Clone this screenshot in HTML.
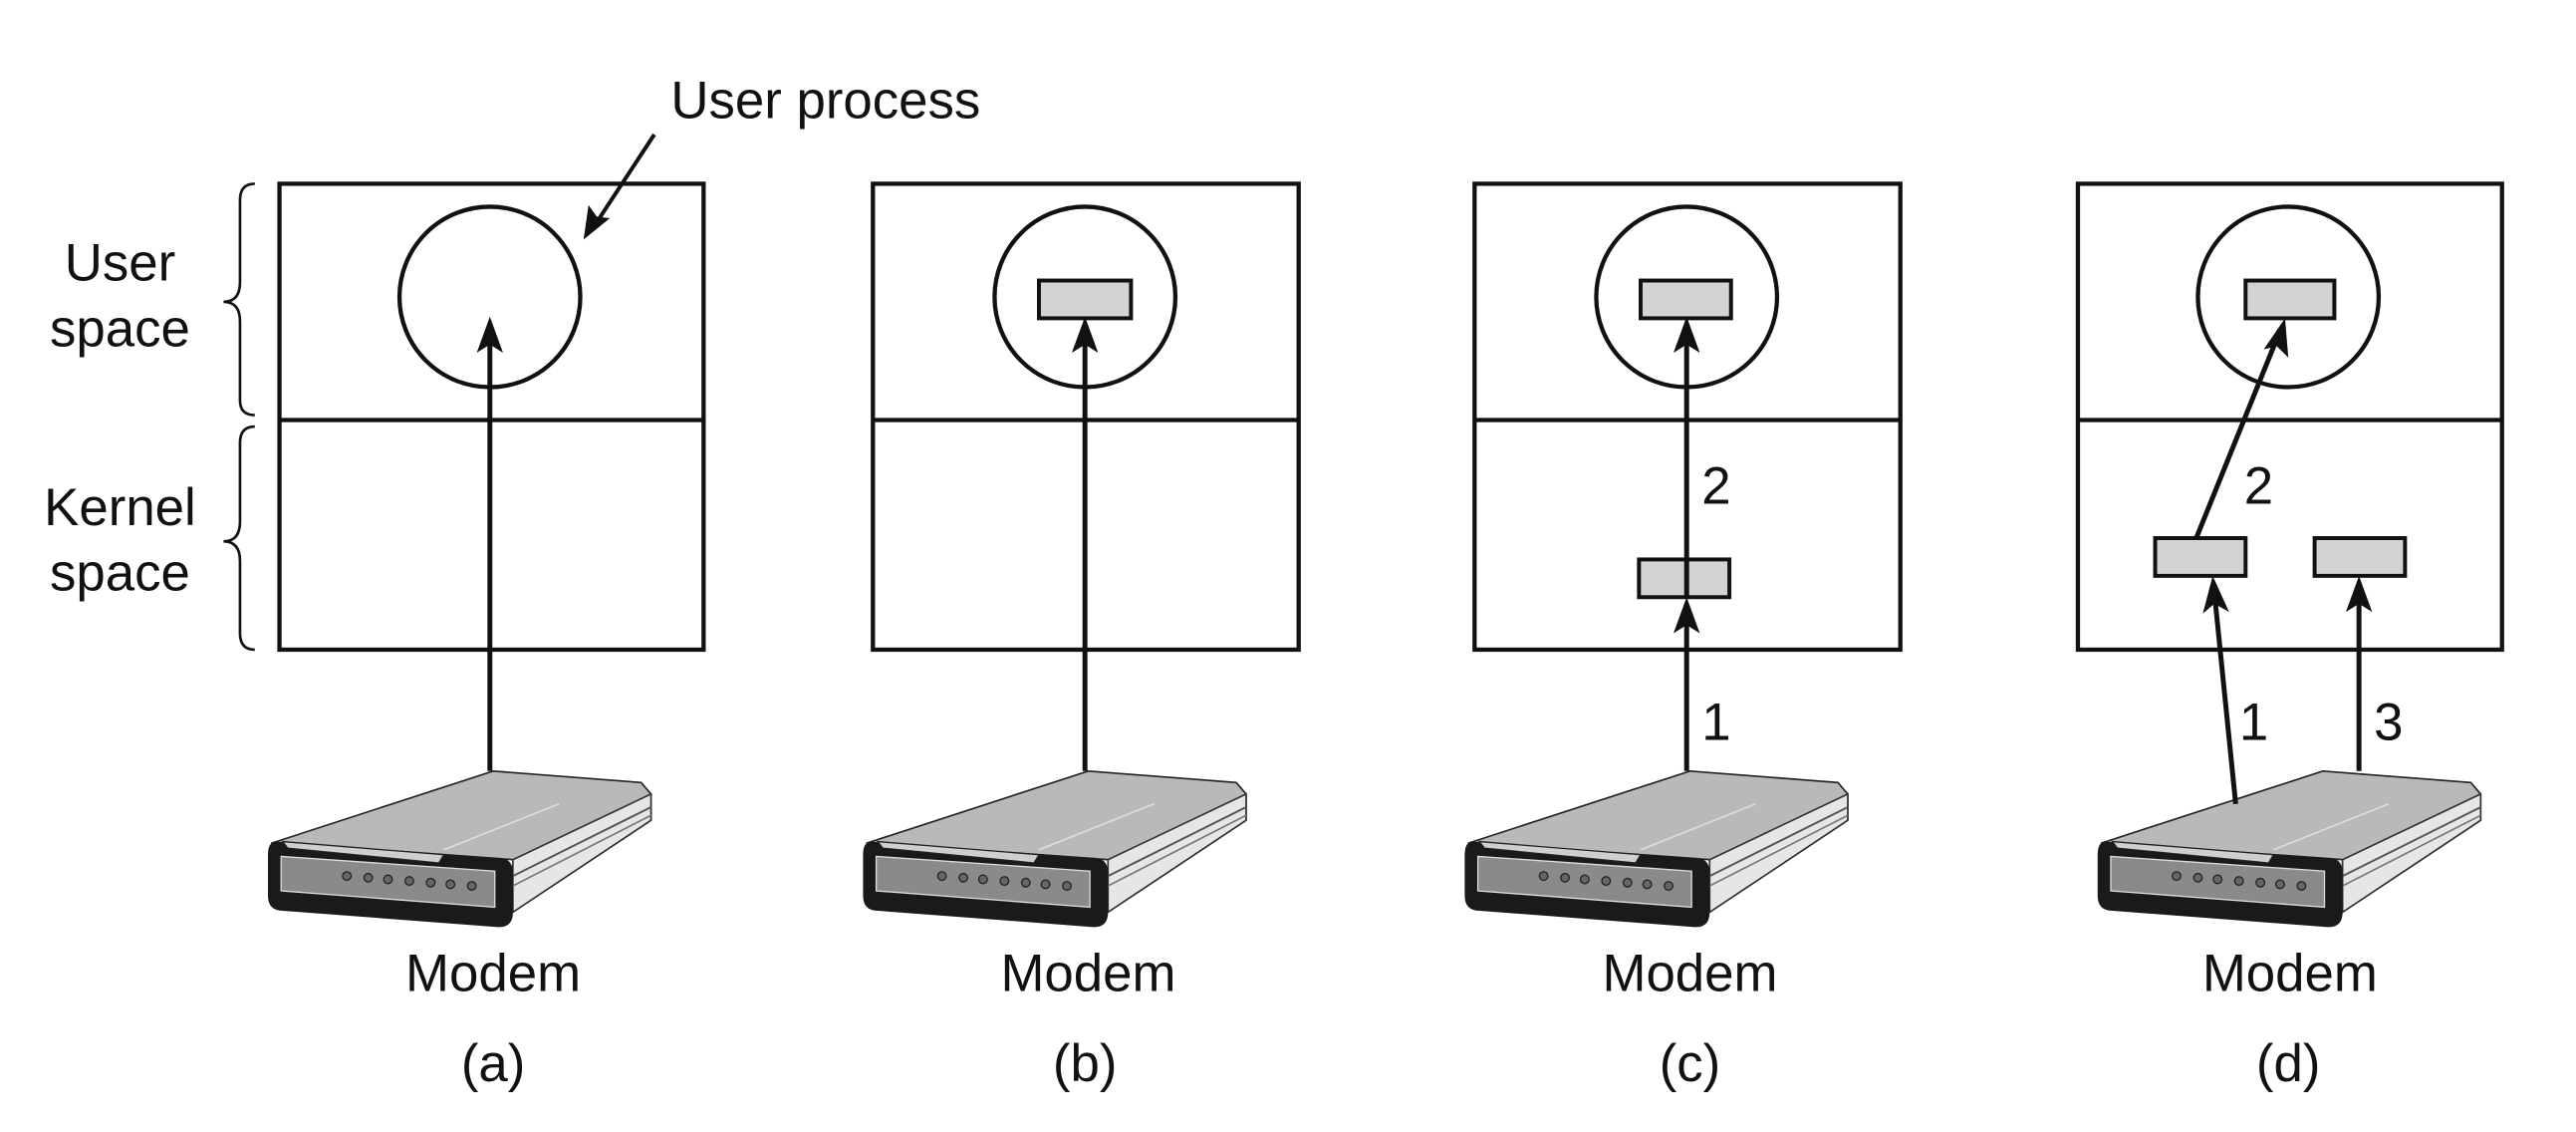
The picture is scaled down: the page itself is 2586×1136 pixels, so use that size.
<!DOCTYPE html>
<html><head><meta charset="utf-8"><style>
html,body{margin:0;padding:0;background:#fff;}
svg{display:block;}
text{font-family:"Liberation Sans",Arial,sans-serif;fill:#111;}
</style></head><body>
<svg width="2586" height="1136" viewBox="0 0 1567 690" preserveAspectRatio="none" xmlns="http://www.w3.org/2000/svg">
<defs>
<g id="modem">
  <polygon points="300,470 390,477 396,484 396,500 312,556 312,524 165,514" fill="#b9b9b9" stroke="#222" stroke-width="1"/>
  <polygon points="312,524 396,484 396,500 312,556" fill="#e6e6e6" stroke="#333" stroke-width="1"/>
  <line x1="312" y1="534" x2="396" y2="492" stroke="#555" stroke-width="1.2"/>
  <line x1="312" y1="540" x2="396" y2="497" stroke="#777" stroke-width="1"/>
  <line x1="270" y1="518" x2="340" y2="490" stroke="#ddd" stroke-width="1"/>
  <path d="M168,513 L305,523 Q312,524 312,532 L312,556 Q312,566 302,565 L170,555 Q163,554 163,546 L163,521 Q163,513 168,513 Z" fill="#1a1a1a"/>
  <polygon points="171,522 301,531 301,553 171,543" fill="#8a8a8a" stroke="#ddd" stroke-width="0.8"/>
  <g fill="#666" stroke="#222" stroke-width="0.8">
    <circle cx="211" cy="534" r="2.6"/><circle cx="224" cy="535" r="2.6"/><circle cx="236" cy="536" r="2.6"/>
    <circle cx="249" cy="537" r="2.6"/><circle cx="262" cy="538" r="2.6"/><circle cx="274" cy="539" r="2.6"/><circle cx="287" cy="540" r="2.6"/>
  </g>
  <polygon points="172,513 270,521 267,526 175,517" fill="#cfcfcf" stroke="#222" stroke-width="0.8"/>
</g>
</defs>

<g fill="none" stroke="#111" stroke-width="2.6">
  <rect x="170" y="112" width="258" height="284"/><line x1="170" y1="256" x2="428" y2="256"/>
  <rect x="531" y="112" width="259" height="284"/><line x1="531" y1="256" x2="790" y2="256"/>
  <rect x="897" y="112" width="259" height="284"/><line x1="897" y1="256" x2="1156" y2="256"/>
  <rect x="1264" y="112" width="258" height="284"/><line x1="1264" y1="256" x2="1522" y2="256"/>
  <circle cx="298" cy="181" r="55"/>
  <circle cx="660" cy="181" r="55"/>
  <circle cx="1026" cy="181" r="55"/>
  <circle cx="1392" cy="181" r="55"/>
</g>
<g fill="none" stroke="#111" stroke-width="1.6">
  <path d="M155,112 Q146,112 146,122 L146,172 Q146,184 136,184 Q146,184 146,196 L146,244 Q146,253 155,253"/>
  <path d="M155,260 Q146,260 146,270 L146,318 Q146,330 136,330 Q146,330 146,342 L146,386 Q146,396 155,396"/>
</g>
<g fill="#d3d3d3" stroke="#111" stroke-width="2.4">
  <rect x="632" y="171" width="56" height="23"/>
  <rect x="998" y="171" width="55" height="23"/>
  <rect x="997" y="341" width="55" height="23"/>
  <rect x="1366" y="171" width="54" height="23"/>
  <rect x="1311" y="328" width="55" height="23"/>
  <rect x="1408" y="328" width="55" height="23"/>
</g>
<use href="#modem"/>
<use href="#modem" transform="translate(362,0)"/>
<use href="#modem" transform="translate(728,0)"/>
<use href="#modem" transform="translate(1113,0)"/>
<g stroke="#111" stroke-width="3" fill="none">
  <line x1="298" y1="470" x2="298" y2="205"/>
  <line x1="660" y1="470" x2="660" y2="204"/>
  <line x1="1026" y1="364" x2="1026" y2="204"/>
  <line x1="1026" y1="470" x2="1026" y2="374"/>
  <line x1="1336" y1="328" x2="1386" y2="204"/>
  <line x1="1360" y1="490" x2="1347" y2="361"/>
  <line x1="1435" y1="470" x2="1435" y2="361"/>
  <line x1="398" y1="82" x2="362" y2="137" stroke-width="2.4"/>
</g>
<g fill="#111">
  <polygon points="298,193 290,215 298,210 306,215"/>
  <polygon points="660,193 652,215 660,210 668,215"/>
  <polygon points="1026,193 1018,215 1026,210 1034,215"/>
  <polygon points="1026,364 1018,386 1026,381 1034,386"/>
  <polygon points="1390,194 1377,213 1385,211 1392,218"/>
  <polygon points="1346,351 1340,374 1347,368 1356,373"/>
  <polygon points="1435,351 1427,373 1435,368 1443,373"/>
  <polygon points="355,146 358,125 363,132 371,133"/>
</g>
<g font-size="32">
  <text x="408" y="72">User process</text>
  <text x="73" y="171" text-anchor="middle">User</text>
  <text x="73" y="211" text-anchor="middle">space</text>
  <text x="73" y="320" text-anchor="middle">Kernel</text>
  <text x="73" y="360" text-anchor="middle">space</text>
  <text x="300" y="604" text-anchor="middle">Modem</text>
  <text x="662" y="604" text-anchor="middle">Modem</text>
  <text x="1028" y="604" text-anchor="middle">Modem</text>
  <text x="1393" y="604" text-anchor="middle">Modem</text>
  <text x="300" y="659" text-anchor="middle">(a)</text>
  <text x="660" y="659" text-anchor="middle">(b)</text>
  <text x="1028" y="659" text-anchor="middle">(c)</text>
  <text x="1392" y="659" text-anchor="middle">(d)</text>
  <text x="1044" y="307" text-anchor="middle">2</text>
  <text x="1044" y="451" text-anchor="middle">1</text>
  <text x="1374" y="307" text-anchor="middle">2</text>
  <text x="1371" y="451" text-anchor="middle">1</text>
  <text x="1453" y="451" text-anchor="middle">3</text>
</g>
</svg>
</body></html>
